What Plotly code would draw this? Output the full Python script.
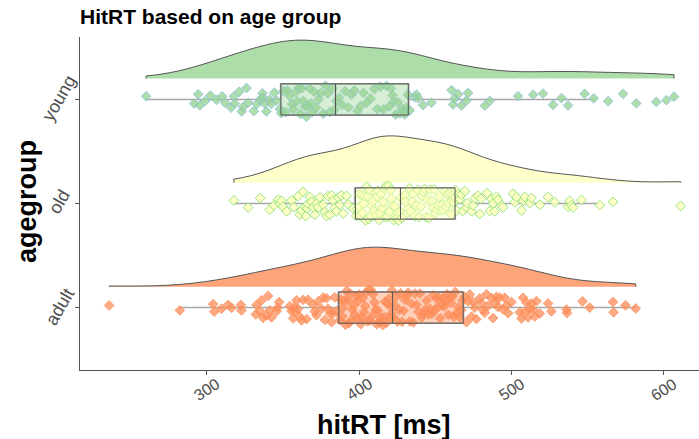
import numpy as np
import plotly.graph_objects as go

groups = ["adult", "old", "young"]

adult_rt = [236.1, 282.5, 304.3, 305, 309.8, 314.2, 316.4, 322.5, 322.9, 332.3,
            332.8, 335, 336, 337.1, 339.3, 340.4, 341.5, 342.6, 345.9, 346.6,
            347.6, 354.6, 355.7, 356.8, 357.4, 357.9, 359, 360.1, 361.2, 362.3,
            363.4, 365.6, 366.6, 369.9, 371, 372.1, 373.2, 375.4, 376.5, 377.6,
            378.7, 379.7, 380.9, 382, 383, 384.1, 385.2,
            387.3, 388.1, 389, 389.6, 390.5, 391.1, 391.9, 392.8, 393.4, 394.2,
            395, 395.6, 396.5, 397.3, 398, 398.7, 399.5, 400.2, 401.1, 401.8,
            402.4, 403.3, 404, 404.6, 405.5, 406.3, 407, 407.8, 408.5, 409.3,
            410.2, 410.9, 411.6, 412.4, 413.2, 414.1, 414.8, 415.6, 416.5, 417.2,
            418, 418.7, 419.4, 420.1, 420.7, 421.2, 421.6,
            422.4, 423.3, 424.3, 425.3, 426.3, 427.3, 428.3, 429.3, 430.3, 431.3,
            432.3, 433.4, 434.5, 435.6, 436.7, 437.8, 438.9, 440, 441.1, 442.2,
            443.3, 444.4, 445.5, 446.6, 447.6, 448.6, 449.6, 450.5, 451.4, 452.3,
            453.2, 454.1, 455, 455.9, 456.8, 457.7, 458.6, 459.5, 460.4, 461.3,
            462.2, 463.1, 464, 465, 466, 467, 468,
            469.2, 470.5, 471.5, 472.7, 473.8, 474.8, 475.9, 477, 479.2, 480.3,
            481.4, 482.5, 483.6, 484.7, 486.9, 487.9, 489, 490.2, 491.2, 492.3,
            494.5, 495.6, 496.7, 497.8, 500, 505.4, 506.6, 507.6, 508.7, 509.8,
            510.9, 512, 513.1, 514.2, 515.3, 516.4, 518.6, 524, 526.2, 536.1,
            536.5, 546.6, 551.3, 566.6, 567, 574.8, 581.5]

old_rt = [317.9, 327.3, 335.2, 341.5, 344.1, 347, 348.1, 349.2, 350.2, 352.5,
          355.7, 357.3, 360.1, 361.2, 362.3, 363.3, 364.5, 365.1, 366, 366.6,
          367.7, 368.9, 369.9, 371, 372.1, 373.2, 374.3, 376.5, 377.6, 378.7,
          379.7, 380.9, 382, 383, 384.1, 385.2, 386.3, 387.4, 388.5, 389.6,
          391.8, 392.9, 396.1,
          398.2, 398.9, 399.7, 400.2, 400.9, 401.7, 402.3, 403, 403.5, 404.3,
          405, 405.8, 406.4, 407, 407.8, 408.4, 409.1, 409.8, 410.6, 411.1,
          411.8, 412.5, 413.3, 413.9, 414.5, 415.2, 416, 416.6, 417.3, 417.9,
          418.6, 419.4, 420, 420.7, 421.3, 422, 422.8, 423.4, 424.1, 424.7,
          425.4, 426.1, 426.8,
          427.6, 428.3, 429.1, 429.9, 430.7, 431.5, 432.3, 433.1, 434, 434.9,
          435.8, 436.7, 437.6, 438.5, 439.4, 440.3, 441.2, 442.1, 443, 443.9,
          444.8, 445.7, 446.6, 447.5, 448.4, 449.3, 450.2, 451.1, 452, 452.9,
          453.8, 454.7, 455.5, 456.3, 457.1, 457.9, 458.7, 459.5, 460.3, 461,
          461.6, 462.2, 462.8,
          463.6, 464, 465, 466.1, 467.2, 468, 469.4, 470.5, 471, 473.8,
          474.8, 475.9, 478.1, 479.2, 480, 484, 485.8, 486.9, 487.9, 489,
          490.2, 491.2, 493.4, 494.5, 501, 502.2, 503.3, 506.6, 507.6, 508.7,
          512, 513.1, 518.6, 524, 528.4, 537.1, 538.2, 539.3, 540.4, 545.9,
          557.9, 566.6, 611]

young_rt = [260.4, 291.9, 294.5, 295.6, 298.9, 302.5, 306.6, 310.2, 312.2, 316.1,
            317.9, 318.6, 321.4, 323, 324, 326.2, 327.3, 331, 333, 335,
            336.7, 337.1, 338.2, 339.3, 341.5, 342.6, 344.5, 345.9, 348.1,
            349, 350.5, 352, 353, 354.5, 356, 357, 358.5, 359.5, 360.5,
            361.5, 362.5, 363.5, 364.5, 365.5, 366.5, 367.5, 368.5, 369.5, 370.5,
            372, 373.5, 375, 376.5, 378, 379.5, 381, 382.5, 384,
            385.2, 387, 389, 391, 393, 395, 397, 399, 401, 403,
            405, 407.5, 410, 412, 414, 416, 418, 420, 421, 422,
            422.8, 424, 425.5, 426.8, 428, 429, 430, 431, 432,
            433.3, 436.6, 437.7, 438.8, 442, 447.5, 460.7, 461.7, 462.8, 465,
            467.2, 470.5, 471.5, 482.5, 485.8, 504.3, 514.2, 520.7, 527.3, 532.8,
            537.1, 548, 554, 563.4, 573.2, 581.9, 595, 601.6, 606.6]

x_ticks = [300, 400, 500, 600]

data = {"adult": adult_rt, "old": old_rt, "young": young_rt}
violin_fill = {"adult": "#fda47a", "old": "#ffffcc", "young": "#addda9"}
violin_width = {"adult": 0.76, "old": 0.9, "young": 0.74}
box_fill = {"adult": "rgba(252,141,89,0.4)", "old": "rgba(255,255,191,0.45)",
            "young": "rgba(153,213,148,0.4)"}
pt_fill = {"adult": "rgba(252,141,89,0.75)", "old": "rgba(255,255,191,0.85)",
           "young": "rgba(153,213,148,0.8)"}
pt_line = {"adult": "rgba(252,141,89,0.75)", "old": "rgba(140,225,120,0.9)",
           "young": "rgba(140,190,225,0.75)"}

fig = go.Figure()
for i, g in enumerate(groups):
    vals = np.array(data[g], dtype=float)
    q1, q3 = np.percentile(vals, [25, 75])
    bw = 0.9 * min(vals.std(ddof=1), (q3 - q1) / 1.34) * len(vals) ** -0.2
    fig.add_trace(go.Violin(
        x=vals, y0=i + 0.2, orientation="h", side="positive",
        width=violin_width[g], spanmode="hard", bandwidth=bw,
        fillcolor=violin_fill[g], line=dict(color="#555555", width=1),
        points=False, scalemode="width", hoverinfo="skip", showlegend=False))

for i, g in enumerate(groups):
    vals = np.array(data[g], dtype=float)
    q1, med, q3 = np.percentile(vals, [25, 50, 75])
    # whiskers (light grey)
    fig.add_trace(go.Box(
        x=vals, y0=i, orientation="h", width=0.3, boxpoints="outliers",
        quartilemethod="linear", fillcolor="rgba(0,0,0,0)",
        line=dict(color="#a8a8a8", width=1.5), whiskerwidth=0,
        marker=dict(size=0.1, opacity=0), hoverinfo="skip", showlegend=False))
    # jittered points
    fig.add_trace(go.Box(
        x=vals, y0=i, orientation="h", width=0.34, boxpoints="all",
        jitter=1, pointpos=0, fillcolor="rgba(0,0,0,0)",
        line=dict(width=0, color="rgba(0,0,0,0)"), whiskerwidth=0,
        marker=dict(symbol="diamond", size=7.5, color=pt_fill[g],
                    line=dict(color=pt_line[g], width=1)),
        hoverinfo="skip", showlegend=False))
    # box on top (no whiskers)
    fig.add_trace(go.Box(
        y=[i], q1=[q1], median=[med], q3=[q3], lowerfence=[q1], upperfence=[q3],
        orientation="h", width=0.3, fillcolor=box_fill[g],
        line=dict(color="#555555", width=1), whiskerwidth=0,
        hoverinfo="skip", showlegend=False))

font_family = "Liberation Sans, Arial, sans-serif"
annotations = [
    dict(text="<b>hitRT [ms]</b>", xref="paper", yref="paper",
         x=(383 - 80) / 619, y=(370 - 425) / 333, xanchor="center", yanchor="middle",
         showarrow=False, font=dict(size=27, color="black")),
    dict(text="<b>agegroup</b>", xref="paper", yref="paper",
         x=(27 - 80) / 619, y=(370 - 202) / 333, xanchor="center", yanchor="middle",
         textangle=-90, showarrow=False, font=dict(size=27, color="black")),
]
for t in x_ticks:
    annotations.append(dict(text=str(t), xref="x", yref="paper", x=t,
                            y=(370 - 389) / 333, xanchor="center", yanchor="middle",
                            textangle=-33, showarrow=False,
                            font=dict(size=16, color="#4d4d4d")))
for i, g in enumerate(groups):
    annotations.append(dict(text=g, xref="paper", yref="y", x=(59.5 - 80) / 619,
                            y=i + 0.01, xanchor="center", yanchor="middle",
                            textangle=-60, showarrow=False,
                            font=dict(size=18, color="#4d4d4d")))

fig.update_layout(
    width=699, height=439,
    margin=dict(l=80, r=0, t=37, b=69),
    paper_bgcolor="white", plot_bgcolor="white",
    violinmode="overlay", boxmode="overlay",
    font=dict(family=font_family),
    title=dict(text="<b>HitRT based on age group</b>", font=dict(size=21, color="black"),
               x=80 / 699, xanchor="left", xref="container",
               y=1 - 17 / 439, yanchor="middle", yref="container"),
    xaxis=dict(range=[217, 623], tickvals=x_ticks, showticklabels=False,
               showline=True, linecolor="#555555", linewidth=1,
               ticks="outside", ticklen=4, tickcolor="#555555",
               showgrid=False, zeroline=False),
    yaxis=dict(range=[-0.6, 2.6], type="linear", tickvals=[0, 1, 2], showticklabels=False,
               showline=True, linecolor="#555555", linewidth=1,
               ticks="outside", ticklen=4, tickcolor="#555555",
               showgrid=False, zeroline=False),
    annotations=annotations,
)

fig.write_html("out.html", config={"displayModeBar": False},
               post_script="document.body.style.margin='0';")
